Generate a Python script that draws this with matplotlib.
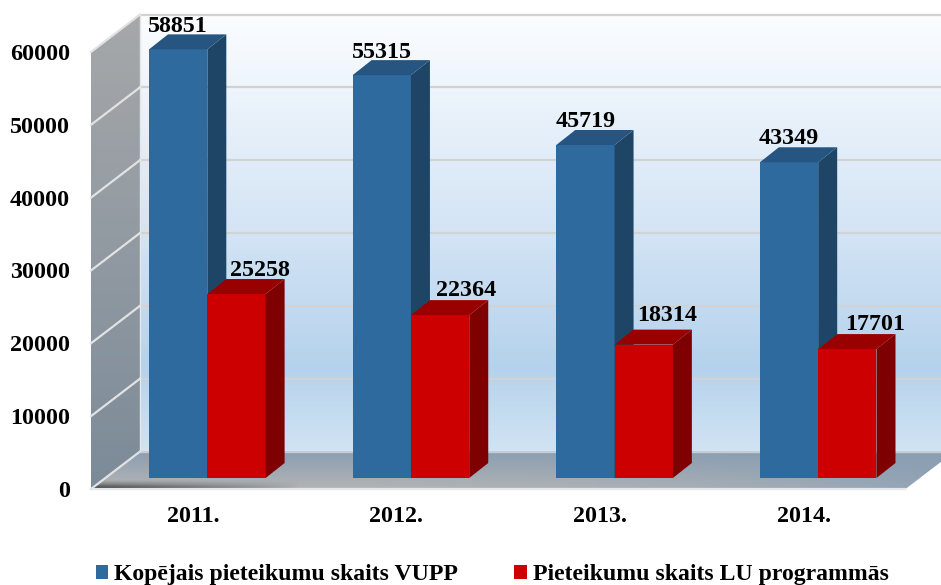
import matplotlib
matplotlib.use('Agg')
import matplotlib.pyplot as plt
import matplotlib.patches as patches
from matplotlib.colors import to_rgb
import numpy as np

plt.rcParams['font.family'] = ['Liberation Serif', 'DejaVu Serif']
plt.rcParams['font.weight'] = 'bold'

years = ['2011.', '2012.', '2013.', '2014.']
total_apps = [58851, 55315, 45719, 43349]
lu_apps = [25258, 22364, 18314, 17701]
y_ticks = [0, 10000, 20000, 30000, 40000, 50000, 60000]

W, H = 941, 585
LEFT, RIGHT, TOP, BOTTOM = 91, 905.5, 52, 489
BAR_W = 58.3
FS = 17.3

fig = plt.figure(figsize=(W / 100, H / 100), dpi=100)
ax = fig.add_axes([LEFT / W, 1 - BOTTOM / H, (RIGHT - LEFT) / W, (BOTTOM - TOP) / H])
ax.set_xlim(-0.5, 3.5)
ax.set_ylim(0, 60000)

# pixel sizes -> data units, the 3d look is just shifted polygons
ux = 4 / (RIGHT - LEFT)
uy = 60000 / (BOTTOM - TOP)
wall_dx, wall_dy = 49 * ux, 37.5 * uy
base_dx, base_dy = 14.5 * ux, 11 * uy
depth_dx, depth_dy = 19 * ux, 15 * uy
bar_w = BAR_W * ux


def gradient_patch(img, corners, zorder):
    # image stretched over the polygon bbox and clipped to the polygon
    xs = [c[0] for c in corners]
    ys = [c[1] for c in corners]
    im = ax.imshow(img, extent=(min(xs), max(xs), min(ys), max(ys)), origin='lower',
                   aspect='auto', interpolation='bilinear', zorder=zorder)
    poly = patches.Polygon(corners, closed=True, transform=ax.transData, fc='none', ec='none')
    ax.add_patch(poly)
    poly.set_clip_on(False)
    im.set_clip_box(fig.bbox)
    im.set_clip_path(poly)


def vgrad(stops, colors, n=128):
    rgb = np.array([to_rgb(c) for c in colors])
    f = np.linspace(0, 1, n)
    out = np.stack([np.interp(f, stops, rgb[:, k]) for k in range(3)], axis=1)
    return out[:, None, :]


# back wall
back = [(-0.5 + wall_dx, wall_dy), (3.5 + wall_dx, wall_dy), (3.5 + wall_dx, 60000 + wall_dy), (-0.5 + wall_dx, 60000 + wall_dy)]
gradient_patch(vgrad([0, 0.19, 0.5, 1], ['#d0e3f3', '#b5d2ec', '#d3e4f5', '#fbfdff']), back, 1)

# left wall
left = [(-0.5, 0), (-0.5 + wall_dx, wall_dy), (-0.5 + wall_dx, 60000 + wall_dy), (-0.5, 60000)]
gradient_patch(vgrad([0, 1], ['#7c8b99', '#a6a8aa']), left, 1)

# floor: blue gray at the back, gray at the front, bluer to the right, dark shadow front left
fx = np.linspace(0, 1, 160)[None, :, None]
fy = np.linspace(0, 1, 64)[:, None, None]
front_c = np.array(to_rgb('#b4b4b4'))[None, None, :] * (1 - fx ** 3) + np.array(to_rgb('#8fa3b6'))[None, None, :] * fx ** 3
back_c = np.array(to_rgb('#8a9eb2'))[None, None, :]
floor_c = front_c * (1 - fy) + back_c * fy
shade = np.clip((0.24 - fy) / 0.24, 0, 1) ** 1.3 * np.clip((0.24 - fx) / 0.24, 0, 1) ** 0.8
floor_img = floor_c * (1 - 0.72 * shade)
floor = [(-0.5, 0), (3.5, 0), (3.5 + wall_dx, wall_dy), (-0.5 + wall_dx, wall_dy)]
gradient_patch(floor_img, floor, 2)

# gridlines on both walls
for t in y_ticks:
    if t > 0:
        ax.plot([-0.5 + wall_dx, 3.5 + wall_dx], [t + wall_dy, t + wall_dy], color='#d2d2d2', lw=1.6, zorder=3, clip_on=False)
    ax.plot([-0.5, -0.5 + wall_dx], [t, t + wall_dy], color='#e2e2e2', lw=1.6, zorder=3, clip_on=False)
ax.plot([-0.5 + wall_dx, -0.5 + wall_dx], [wall_dy, 60000 + wall_dy], color='#e6e6e6', lw=1.0, zorder=3, clip_on=False)
ax.plot([-0.5, 3.5], [0, 0], color='#e4e8ec', lw=1.6, zorder=3, clip_on=False)
ax.plot([-0.5 + wall_dx, 3.5 + wall_dx], [wall_dy, wall_dy], color='#c8ccd0', lw=1, zorder=3, clip_on=False)


def bar3d(x0, value, front, side, top, zorder):
    # front through ax.bar, side and top as polygons
    b = ax.bar(x0, value, bar_w, bottom=base_dy, align='edge', color=front, zorder=zorder, clip_on=False)
    x1 = x0 + bar_w
    y0, y1 = base_dy, base_dy + value
    ax.add_patch(patches.Polygon([(x1, y0), (x1 + depth_dx, y0 + depth_dy), (x1 + depth_dx, y1 + depth_dy), (x1, y1)],
                                 fc=side, ec='none', zorder=zorder, clip_on=False))
    ax.add_patch(patches.Polygon([(x0, y1), (x1, y1), (x1 + depth_dx, y1 + depth_dy), (x0 + depth_dx, y1 + depth_dy)],
                                 fc=top, ec='none', zorder=zorder, clip_on=False))
    return b


positions = np.arange(len(years))
blue_label_up = [23, 23, 24, 24]
red_label_shift = [23, 26, 23, 28]
red_label_up = [24, 25, 29, 25]
for i, p in enumerate(positions):
    x_blue = p + base_dx - bar_w
    x_red = p + base_dx
    b1 = bar3d(x_blue, total_apps[i], '#2e6a9e', '#1e4566', '#255580', 5)
    b2 = bar3d(x_red, lu_apps[i], '#cc0000', '#7f0000', '#990000', 6)
    ax.annotate(str(total_apps[i]), (x_blue + bar_w / 2, base_dy + total_apps[i]), xytext=(0, blue_label_up[i]),
                textcoords='offset pixels', ha='center', va='center', fontsize=FS, zorder=10, annotation_clip=False)
    ax.annotate(str(lu_apps[i]), (x_red + bar_w / 2, base_dy + lu_apps[i]), xytext=(red_label_shift[i], red_label_up[i]),
                textcoords='offset pixels', ha='center', va='center', fontsize=FS, zorder=10, annotation_clip=False)

ax.set_xlim(-0.5, 3.5)
ax.set_ylim(0, 60000)
ax.set_xticks(positions, years)
ax.set_yticks(y_ticks)
ax.tick_params(length=0, labelsize=FS)
ax.tick_params(axis='y', pad=15)
ax.tick_params(axis='x', pad=12)
for s in ax.spines.values():
    s.set_visible(False)
ax.patch.set_visible(False)

ax.legend([b1, b2], ['Kopējais pieteikumu skaits VUPP', 'Pieteikumu skaits LU programmās'],
          ncol=2, loc='lower left', bbox_to_anchor=(92 / W, -4 / H), bbox_transform=fig.transFigure,
          frameon=False, fontsize=17.15, handlelength=0.52, handleheight=0.52, handletextpad=0.27,
          columnspacing=2.35, borderpad=0.15, borderaxespad=0)

fig.savefig('out.png', dpi=100)
